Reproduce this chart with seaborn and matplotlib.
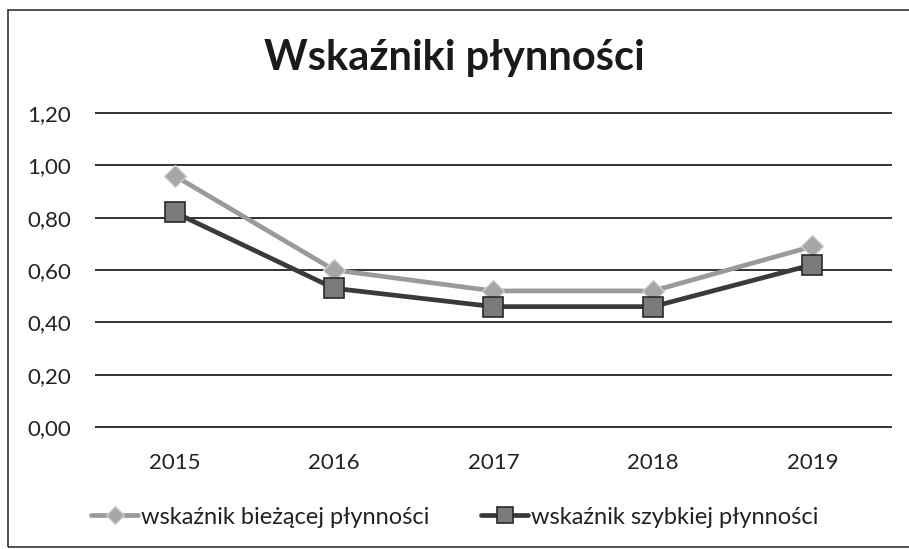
import matplotlib
matplotlib.use('Agg')
import matplotlib.pyplot as plt
import matplotlib.patches as mpatches
import seaborn as sns
import pandas as pd

# Data
lata = [2015, 2016, 2017, 2018, 2019]
biezaca = [0.96, 0.60, 0.52, 0.52, 0.69]
szybka = [0.82, 0.53, 0.46, 0.46, 0.62]
nazwa_biezaca = 'wskaźnik bieżącej płynności'
nazwa_szybka = 'wskaźnik szybkiej płynności'
y_ticks = [0.0, 0.2, 0.4, 0.6, 0.8, 1.0, 1.2]

df = pd.DataFrame({
    'rok': lata * 2,
    'wartosc': biezaca + szybka,
    'seria': [nazwa_biezaca] * len(lata) + [nazwa_szybka] * len(lata),
})

sns.set_style('white')
plt.rcParams['font.family'] = ['Lato', 'DejaVu Sans']

fig = plt.figure(figsize=(9.09, 5.49), dpi=100)
ax = fig.add_axes([95 / 909, 0.2175, (892 - 95) / 909, 0.7989 - 0.2175])

# Gridlines
for v in y_ticks:
    ax.axhline(v, color='#222222', lw=1.3, zorder=1)

sns.lineplot(data=df[df['seria'] == nazwa_biezaca], x='rok', y='wartosc',
             color='#9a9a9a', lw=3.4, marker='D', markersize=11,
             markerfacecolor='#a6a6a6', markeredgecolor='#cfcfcf', markeredgewidth=1,
             ax=ax, label=nazwa_biezaca, zorder=3)
sns.lineplot(data=df[df['seria'] == nazwa_szybka], x='rok', y='wartosc',
             color='#3a3a3a', lw=3.4, marker='s', markersize=14,
             markerfacecolor='#7a7a7a', markeredgecolor='#2a2a2a', markeredgewidth=1.2,
             ax=ax, label=nazwa_szybka, zorder=3)

ax.set_xlim(lata[0] - 0.5, lata[-1] + 0.5)
ax.set_ylim(-0.01, 1.21)
ax.set_xticks(lata)
ax.set_xticklabels([str(r) for r in lata], fontsize=16, color='#222222')
ax.set_yticks(y_ticks)
ax.set_yticklabels([f'{v:.2f}'.replace('.', ',') for v in y_ticks], fontsize=16, color='#222222')
ax.tick_params(axis='x', length=0, pad=17)
ax.tick_params(axis='y', length=0, pad=17)
ax.set_xlabel('')
ax.set_ylabel('')
for s in ax.spines.values():
    s.set_visible(False)

handles, labels = ax.get_legend_handles_labels()
ax.get_legend().remove()
fig.legend(handles, labels, loc='center', bbox_to_anchor=(0.5, 1 - 517 / 549), ncol=2,
           frameon=False, fontsize=17, handlelength=2.0, handletextpad=0.1,
           columnspacing=2.2, labelcolor='#222222', markerscale=0.8)

fig.text(0.5, 1 - 58 / 549, 'Wskaźniki płynności', ha='center', va='center',
         fontsize=30, fontweight='bold', color='#1a1a1a')

# Outer frame of the chart (scanned, right edge cut off)
fig.patches.append(mpatches.Rectangle((8 / 909, 2 / 549), 1.2, 537 / 549,
                                      transform=fig.transFigure, fill=False,
                                      edgecolor='#333333', lw=1.2))

fig.savefig('out.png', dpi=100, facecolor='white')
